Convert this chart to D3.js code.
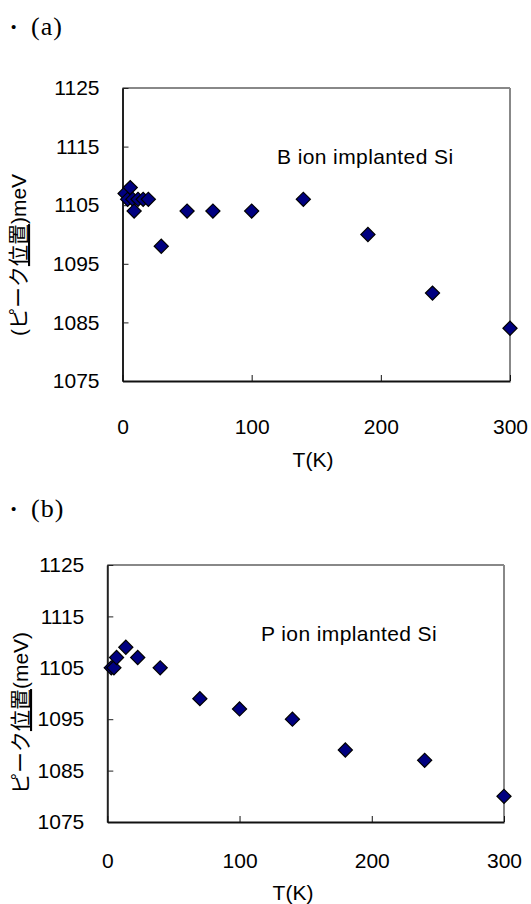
<!DOCTYPE html>
<html>
<head>
<meta charset="utf-8">
<script src="https://cdn.jsdelivr.net/npm/d3@7"></script>
<style>
  body { margin: 0; background: #fff; }
  svg { display: block; }
  text { font-family: "Liberation Sans", Arial, "Noto Sans CJK JP", sans-serif; fill: #000; }
  .title { font-family: "Liberation Serif", "DejaVu Serif", serif; }
</style>
</head>
<body>
<svg id="chart" width="531" height="904"></svg>
<script>
// Data
var tempA = [2, 4, 6, 8, 9, 12, 16, 20, 30, 50, 70, 100, 140, 190, 240, 300];
var peakA = [1107, 1106, 1108, 1106, 1104, 1106, 1106, 1106, 1098, 1104, 1104, 1104, 1106, 1100, 1090, 1084];
var tempB = [3, 5, 7, 14, 23, 40, 70, 100, 140, 180, 240, 300];
var peakB = [1105, 1105, 1107, 1109, 1107, 1105, 1099, 1097, 1095, 1089, 1087, 1080];
var xTicks = [0, 100, 200, 300];
var yTicks = [1075, 1085, 1095, 1105, 1115, 1125];

var svg = d3.select("#chart");

// one panel
function drawPanel(opt) {
    var g = svg.append("g");
    var x = d3.scaleLinear().domain([0, 300]).range([opt.left, opt.right]);
    var y = d3.scaleLinear().domain([1075, 1125]).range([opt.bottom, opt.top]);

    // title
    g.append("text").attr("x", 11).attr("y", opt.titleY - 3)
        .style("font-size", "15px").text("•");
    g.append("text").attr("class", "title").attr("x", 31).attr("y", opt.titleY)
        .style("font-size", "26px").style("letter-spacing", "1px").text(opt.title);

    // frame: top + right gray
    g.append("line").attr("x1", opt.left).attr("x2", opt.right).attr("y1", opt.top).attr("y2", opt.top)
        .attr("stroke", "#888").attr("stroke-width", 2);
    g.append("line").attr("x1", opt.right).attr("x2", opt.right).attr("y1", opt.top).attr("y2", opt.bottom)
        .attr("stroke", "#888").attr("stroke-width", 2);

    // y axis
    var yAxis = d3.axisLeft(y).tickValues(yTicks).tickFormat(d3.format("d"))
        .tickSize(-6).tickPadding(23).tickSizeOuter(0);
    var ya = g.append("g").attr("transform", "translate(" + opt.left + ",0)").call(yAxis);
    ya.select(".domain").attr("stroke", "#222").attr("stroke-width", 2);
    ya.selectAll(".tick line").attr("stroke", "#222");
    ya.selectAll(".tick text").style("font-size", "21px").attr("font-family", null);

    // x axis
    var xAxis = d3.axisBottom(x).tickValues(xTicks).tickFormat(d3.format("d"))
        .tickSize(-6).tickPadding(opt.xPad).tickSizeOuter(0);
    var xa = g.append("g").attr("transform", "translate(0," + opt.bottom + ")").call(xAxis);
    xa.select(".domain").attr("stroke", "#111").attr("stroke-width", 2);
    xa.selectAll(".tick line").attr("stroke", "#111");
    xa.selectAll(".tick text").style("font-size", "21px").attr("font-family", null);

    // axis titles
    g.append("text").attr("x", opt.xTitleX).attr("y", opt.xTitleY)
        .attr("text-anchor", "middle").style("font-size", "21px").text("T(K)");

    var yl = g.append("text")
        .attr("transform", "translate(" + opt.yTitleX + "," + opt.yTitleY + ") rotate(-90)")
        .attr("text-anchor", "middle").style("font-size", "21px");
    yl.append("tspan").text(opt.yPre);
    yl.append("tspan").style("text-decoration", "underline").text("位置");
    yl.append("tspan").text(opt.yPost);

    // annotation
    g.append("text").attr("x", opt.noteX).attr("y", opt.noteY)
        .style("font-size", "21px").style("letter-spacing", "0.4px").text(opt.note);

    // points
    var pts = opt.temps.map(function(t, i) { return {t: t, e: opt.peaks[i]}; });
    g.selectAll(".pt").data(pts).enter().append("path")
        .attr("class", "pt")
        .attr("d", d3.symbol().type(d3.symbolSquare).size(100))
        .attr("transform", function(d) { return "translate(" + x(d.t) + "," + y(d.e) + ") rotate(45)"; })
        .attr("fill", "#000080")
        .attr("stroke", "#000")
        .attr("stroke-width", 1.2);
}

drawPanel({
    title: "(a)", titleY: 35,
    left: 122.5, right: 510, top: 88, bottom: 381,
    xPad: 38, xTitleX: 313, xTitleY: 467,
    yTitleX: 26, yTitleY: 255, yPre: "(ピーク", yPost: ")meV",
    note: "B ion implanted Si", noteX: 277, noteY: 164,
    temps: tempA, peaks: peakA
});

drawPanel({
    title: "(b)", titleY: 517,
    left: 107.3, right: 504, top: 565, bottom: 822,
    xPad: 31, xTitleX: 293, xTitleY: 900,
    yTitleX: 28, yTitleY: 713, yPre: "ピーク", yPost: "(meV)",
    note: "P ion implanted Si", noteX: 261, noteY: 641,
    temps: tempB, peaks: peakB
});
</script>
</body>
</html>
